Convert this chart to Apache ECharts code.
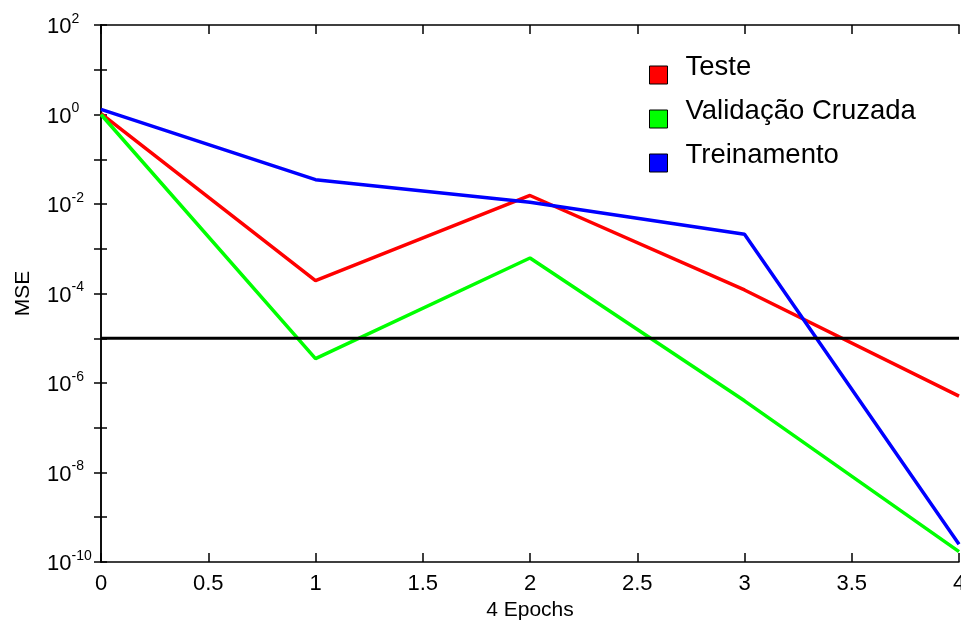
<!DOCTYPE html>
<html>
<head>
<meta charset="utf-8">
<script src="https://cdn.jsdelivr.net/npm/echarts@6/dist/echarts.min.js"></script>
<style>
	html, body { margin: 0; padding: 0; background: #fff; }
	#mse_chart { width: 961px; height: 627px; }
</style>
</head>
<body>
<div id="mse_chart"></div>
<script>
	var epochs = [0, 1, 2, 3, 4];
	var teste = [1.05, 1.95e-4, 1.55e-2, 1.2e-4, 5.1e-7];
	var validacao = [1.0, 3.5e-6, 6.2e-4, 4.0e-7, 1.7e-10];
	var treinamento = [1.3, 3.5e-2, 1.1e-2, 2.1e-3, 2.5e-10];
	var meta = 1e-5;
	var names = ['Teste', 'Validação Cruzada', 'Treinamento'];

	function pares(vals) {
		return epochs.map(function(e, i) {
			return [e, vals[i]];
		});
	}

	var mse_chart = echarts.init(document.getElementById("mse_chart"));
	var fonte = 'Liberation Sans, Arial, sans-serif';
	var eixo = { color: '#000', width: 1.5 };
	var op = {
		animation: false,
		grid: {
			left: 101,
			right: 2,
			top: 25,
			bottom: 65,
			outerBoundsMode: 'none'
		},
		legend: {
			orient: 'vertical',
			left: 644,
			top: 48,
			icon: 'rect',
			itemWidth: 18,
			itemHeight: 18,
			itemGap: 0,
			itemStyle: {
				borderColor: '#000',
				borderWidth: 1
			},
			formatter: '{t|{name}}',
			textStyle: {
				padding: [0, 0, 0, 13],
				rich: {
					t: {
						fontFamily: fonte,
						fontSize: 27.5,
						color: '#000',
						lineHeight: 28,
						padding: [0, 0, 16, 0]
					}
				}
			},
			data: names
		},
		xAxis: [{
			type: 'value',
			min: 0,
			max: 4,
			interval: 0.5,
			name: '4 Epochs',
			nameLocation: 'middle',
			nameGap: 34,
			nameTextStyle: { fontFamily: fonte, fontSize: 21, color: '#000' },
			axisLine: { lineStyle: eixo },
			axisTick: { inside: true, length: 9, lineStyle: eixo },
			axisLabel: { fontFamily: fonte, fontSize: 22, color: '#000', margin: 11 },
			splitLine: { show: false }
		}, {
			type: 'value',
			position: 'top',
			min: 0,
			max: 4,
			interval: 0.5,
			axisLine: { show: true, lineStyle: eixo },
			axisTick: { inside: true, length: 9, lineStyle: eixo },
			axisLabel: { show: false },
			splitLine: { show: false }
		}],
		yAxis: [{
			type: 'log',
			logBase: 10,
			min: 1e-10,
			max: 1e2,
			interval: 1,
			name: 'MSE',
			nameLocation: 'middle',
			nameGap: 67,
			nameTextStyle: { fontFamily: fonte, fontSize: 21, color: '#000' },
			axisLine: { show: true, lineStyle: eixo },
			axisTick: { inside: true, length: 6, lineStyle: eixo },
			axisLabel: {
				align: 'left',
				margin: 54,
				formatter: function(v) {
					var e = Math.round(Math.log10(v));
					if (e % 2 !== 0) return '';
					return '{b|10}{s|' + e + '}';
				},
				rich: {
					b: { fontFamily: fonte, fontSize: 22, color: '#000', lineHeight: 26, verticalAlign: 'bottom' },
					s: { fontFamily: fonte, fontSize: 14, color: '#000', lineHeight: 14, verticalAlign: 'top' }
				}
			},
			splitLine: { show: false }
		}, {
			type: 'log',
			logBase: 10,
			min: 1e-10,
			max: 1e2,
			interval: 1,
			position: 'right',
			axisLine: { show: true, lineStyle: eixo },
			axisTick: { inside: true, length: 7, lineStyle: eixo },
			axisLabel: { show: false },
			splitLine: { show: false }
		}],
		series: [{
			name: names[0],
			type: 'line',
			data: pares(teste),
			symbol: 'none',
			color: '#ff0000',
			lineStyle: { width: 3.5 }
		}, {
			name: names[1],
			type: 'line',
			data: pares(validacao),
			symbol: 'none',
			color: '#00ff00',
			lineStyle: { width: 3.5 }
		}, {
			name: names[2],
			type: 'line',
			data: pares(treinamento),
			symbol: 'none',
			color: '#0000ff',
			lineStyle: { width: 3.5 }
		}, {
			name: 'meta',
			type: 'line',
			data: [[0, meta], [4, meta]],
			symbol: 'none',
			color: '#000',
			lineStyle: { width: 3 }
		}]
	};
	mse_chart.setOption(op);
</script>
</body>
</html>
